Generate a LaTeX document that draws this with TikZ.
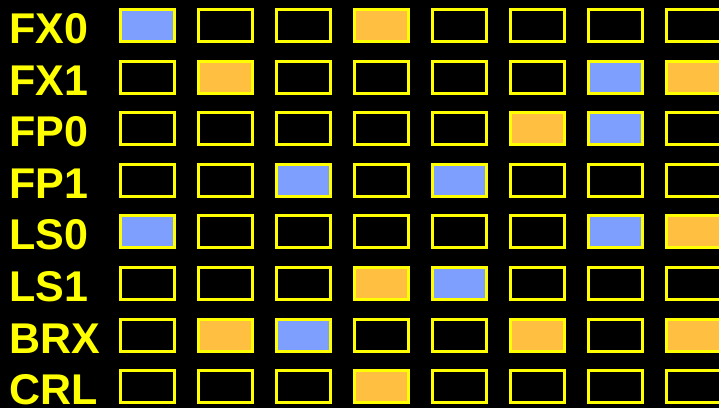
\documentclass[tikz,border=0pt]{standalone}
\usepackage{fontspec}
\setmainfont{Liberation Sans}
\usetikzlibrary{positioning}

\definecolor{slotyellow}{HTML}{FFFF00}
\definecolor{slotblue}{HTML}{7F9FFF}
\definecolor{slotorange}{HTML}{FFBF40}

\begin{document}
\begin{tikzpicture}[
  x=1pt, y=-1pt,
  slot/.style={draw=slotyellow, line width=3pt, minimum width=54pt,
    minimum height=32pt, inner sep=0pt, fill=black},
  cellE/.style={slot},
  cellB/.style={slot, fill=slotblue},
  cellO/.style={slot, fill=slotorange},
  unit/.style={text=slotyellow, font=\fontsize{43}{43}\selectfont\bfseries,
    anchor=base west, inner sep=0pt}
]
\fill[black] (0,0) rectangle (719,408);
\useasboundingbox (0,0) rectangle (719,408);
% one row per functional unit, B = blue, O = orange, E = empty
\foreach \name/\cells [count=\r from 0] in {
    FX0/{B,E,E,O,E,E,E,E},
    FX1/{E,O,E,E,E,E,B,O},
    FP0/{E,E,E,E,E,O,B,E},
    FP1/{E,E,B,E,B,E,E,E},
    LS0/{B,E,E,E,E,E,B,O},
    LS1/{E,E,E,O,B,E,E,E},
    BRX/{E,O,B,E,E,O,E,O},
    CRL/{E,E,E,O,E,E,E,E}} {
  \node[unit] (\name) at (9, 43.5+51.6*\r) {\name};
  \foreach \c [count=\k from 0] in \cells
    \node[cell\c] (\name-\k) at (147.5+78*\k, 25.5+51.6*\r) {};
}
\end{tikzpicture}
\end{document}
